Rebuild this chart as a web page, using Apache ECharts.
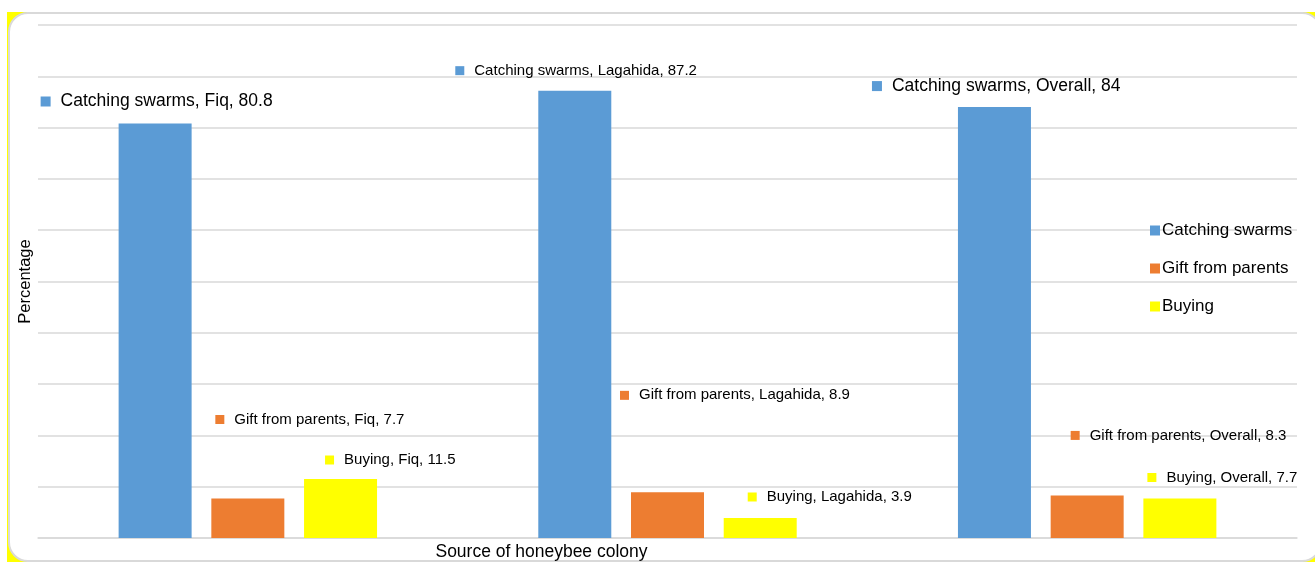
<!DOCTYPE html>
<html>
<head>
<meta charset="utf-8">
<script src="https://cdn.jsdelivr.net/npm/echarts@6/dist/echarts.min.js"></script>
<style>
    html, body { margin: 0; padding: 0; background: #fff; overflow: hidden; }
    #bg { position: absolute; left: 7px; top: 12px; width: 1315px; height: 552px; background: #ffff00; }
    #frame { position: absolute; left: 8px; top: 12px; width: 1310px; height: 546px; background: #fff;
             border: 2px solid #d9d9d9; border-radius: 20px; }
    #main { position: absolute; left: 0; top: 0; width: 1315px; height: 562px; }
</style>
</head>
<body>
<div id="bg"></div>
<div id="frame"></div>
<div id="main"></div>
<script>
let categories = ['Fiq', 'Lagahida', 'Overall'];
let seriesNames = ['Catching swarms', 'Gift from parents', 'Buying'];
let catchingSwarms = [80.8, 87.2, 84];
let giftFromParents = [7.7, 8.9, 8.3];
let buying = [11.5, 3.9, 7.7];
let yTicks = [0, 100, 10]; // min, max, interval

let colors = ['#5b9bd5', '#ed7d31', '#ffff00'];

// callout placement relative to the top-left corner of each bar (moved by hand in the original)
let labelOffsets = [
    [[-78, -22], [-83, -20], [-86, -21]],
    [[4, -79], [-11, -97], [20, -60]],
    [[21, -19], [24, -21], [4, -21]]
];
let labelSizes = [
    [17.5, 15, 17.5],
    [15, 15, 15],
    [15, 15, 15]
];

let chart = echarts.init(document.getElementById('main'));

function makeSeries(idx, values) {
    return {
        name: seriesNames[idx],
        type: 'bar',
        barWidth: 73,
        barGap: '27%',
        itemStyle: {color: colors[idx]},
        data: values.map((v, i) => {
            let fs = labelSizes[idx][i];
            let sq = fs > 16 ? 10 : 9;
            return {
                value: v,
                label: {
                    show: true,
                    position: labelOffsets[idx][i],
                    align: 'left',
                    verticalAlign: 'middle',
                    formatter: p => '{s|}{t|' + p.seriesName + ', ' + p.name + ', ' + p.value + '}',
                    rich: {
                        s: {width: sq, height: sq, backgroundColor: colors[idx]},
                        t: {fontSize: fs, color: '#000', padding: [0, 0, 0, 10],
                            fontFamily: 'Liberation Sans, Arial, sans-serif'}
                    }
                }
            };
        })
    };
}

let option = {
    animation: false,
    textStyle: {fontFamily: 'Liberation Sans, Arial, sans-serif'},
    grid: {left: 38, right: 18, top: 25, bottom: 24, outerBoundsMode: 'none'},
    legend: {
        orient: 'vertical',
        left: 1145,
        top: 217,
        itemWidth: 10,
        itemHeight: 10,
        itemGap: 21,
        icon: 'rect',
        textStyle: {fontSize: 17, color: '#000', padding: [0, 0, 0, -3]},
        data: seriesNames
    },
    xAxis: {
        type: 'category',
        data: categories,
        name: 'Source of honeybee colony',
        nameLocation: 'middle',
        nameGap: 5,
        nameTextStyle: {fontSize: 17.5, color: '#000', padding: [0, 252, 0, 0], verticalAlign: 'top'},
        axisLine: {lineStyle: {color: '#d9d9d9', width: 1.5}},
        axisTick: {show: false},
        axisLabel: {show: false}
    },
    yAxis: {
        type: 'value',
        min: yTicks[0],
        max: yTicks[1],
        interval: yTicks[2],
        name: 'Percentage',
        nameLocation: 'middle',
        nameGap: 4,
        nameTextStyle: {fontSize: 16.5, color: '#000'},
        axisLine: {show: false},
        axisTick: {show: false},
        axisLabel: {show: false},
        splitLine: {lineStyle: {color: '#d9d9d9', width: 1.5}}
    },
    series: [
        makeSeries(0, catchingSwarms),
        makeSeries(1, giftFromParents),
        makeSeries(2, buying)
    ]
};

chart.setOption(option);
</script>
</body>
</html>
